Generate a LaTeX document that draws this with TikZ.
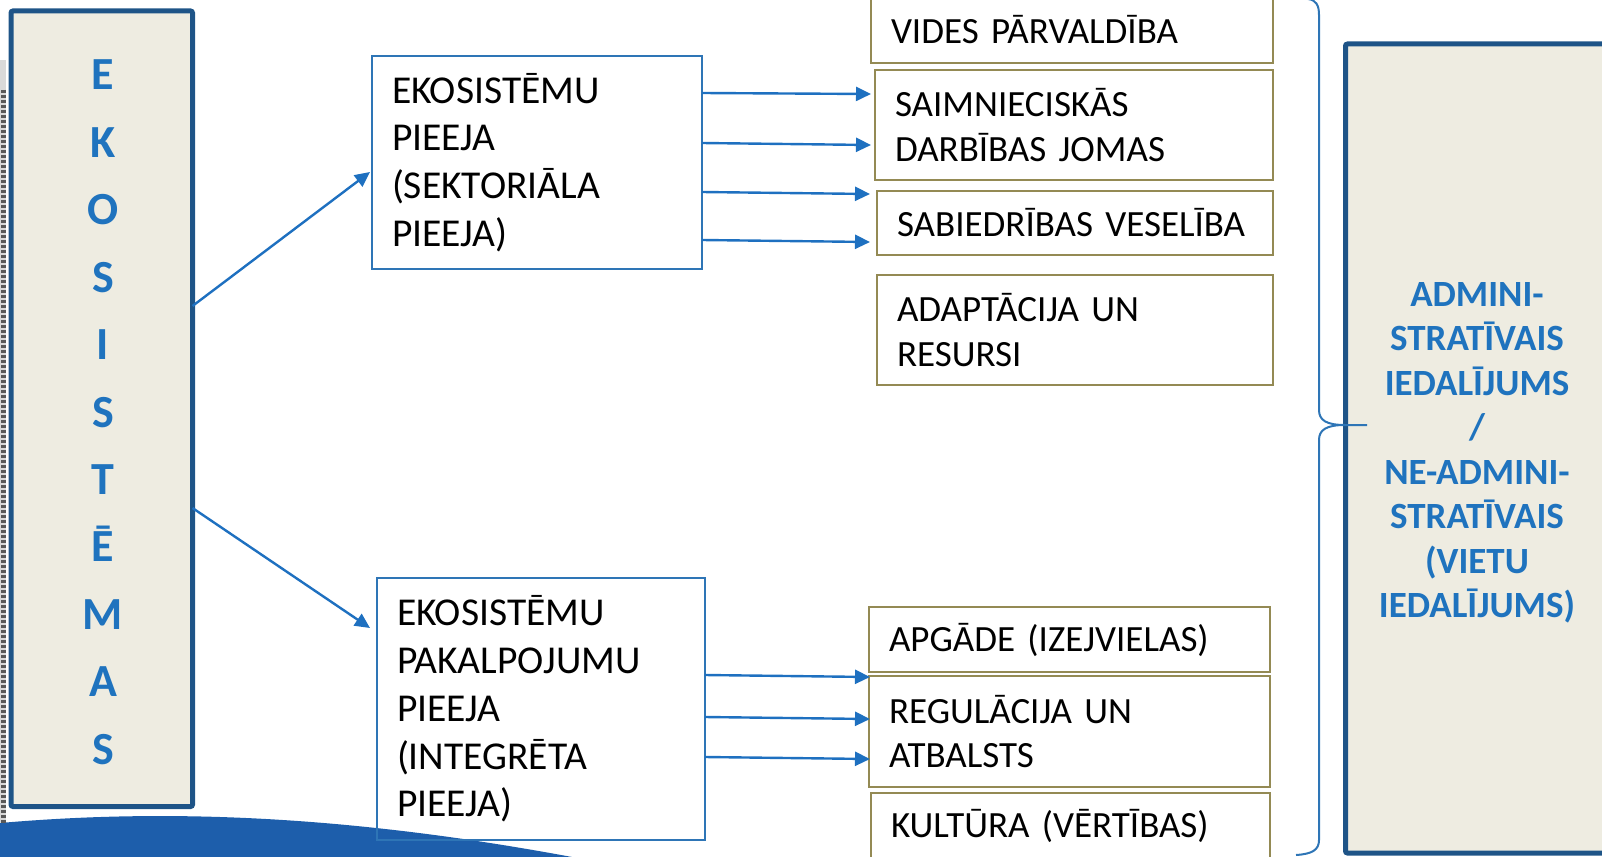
\documentclass[tikz,border=0pt]{standalone}
\usepackage{fontspec}
\setmainfont{Carlito}
\usetikzlibrary{arrows.meta,positioning}

\definecolor{ecoblue}{RGB}{30,84,135}
\definecolor{ecofill}{RGB}{238,236,225}
\definecolor{txtblue}{RGB}{31,115,190}
\definecolor{arrblue}{RGB}{30,112,192}
\definecolor{boxblue}{RGB}{46,117,182}
\definecolor{olivebox}{RGB}{148,138,84}
\definecolor{waveblue}{RGB}{29,94,171}

\begin{document}
\begin{tikzpicture}[
    x=1pt, y=-1pt,
    >=Stealth,
    sidebox/.style={draw=ecoblue, fill=ecofill, line width=5pt, rounded corners=2pt, outer sep=0pt, anchor=north west},
    letter/.style={anchor=base, text=txtblue, font=\fontsize{46}{55}\selectfont\bfseries, inner sep=0pt},
    admtext/.style={align=center, text=txtblue, font=\fontsize{37}{44.5}\selectfont\bfseries},
    appbox/.style={draw=boxblue, line width=2pt, align=left, inner xsep=20pt, outer sep=0pt, anchor=north west, font=\fontsize{39.5}{47.7}\selectfont},
    dombox/.style={draw=olivebox, line width=2pt, align=left, inner xsep=20pt, outer sep=0pt, anchor=north west, font=\fontsize{37}{44.5}\selectfont},
    arr/.style={-{Triangle[length=15pt,width=14pt]}, line width=2.4pt, draw=arrblue},
    brace/.style={draw=boxblue, line width=2pt}
  ]
  \useasboundingbox (0,0) rectangle (1602,856);

  % --- BACKGROUND ---
  \fill[waveblue] (0,823) .. controls (150,810) and (330,812) .. (572,857) -- (0,857) -- cycle;
  \fill[gray!30] (0,60) rectangle (6,823);
  \draw[line width=5pt, dash pattern=on 3pt off 2pt, black!65] (3,90) -- (3,823);

  % --- EKOSISTEMAS ---
  \node[sidebox, minimum width=181.5, minimum height=795.5] (eco) at (11,11) {};
  \foreach \ch [count=\i from 0] in {E,K,O,S,I,S,T,Ē,M,A,S}
    \node[letter] (eco-\i) at (103, 90+67.4*\i) {\ch};

  % --- APPROACHES ---
  \node[appbox, minimum width=330, minimum height=213, text width=290] (sect) at (372,56) {EKOSISTĒMU\\PIEEJA\\(SEKTORIĀLA\\PIEEJA)};
  \node[appbox, minimum width=328, minimum height=262, text width=288] (svc) at (377,578) {EKOSISTĒMU\\PAKALPOJUMU\\PIEEJA\\(INTEGRĒTA\\PIEEJA)};

  % --- SECTORS ---
  \node[dombox, minimum width=402, minimum height=66, text width=362] (vides) at (871,-3) {VIDES PĀRVALDĪBA};
  \node[dombox, minimum width=398, minimum height=110, text width=358] (saim) at (875,70) {SAIMNIECISKĀS\\DARBĪBAS JOMAS};
  \node[dombox, minimum width=396, minimum height=64, text width=356] (veselib) at (877,191) {SABIEDRĪBAS VESELĪBA};
  \node[dombox, minimum width=396, minimum height=110, text width=356] (adapt) at (877,275) {ADAPTĀCIJA UN\\RESURSI};

  % --- SERVICES ---
  \node[dombox, minimum width=401, minimum height=65, text width=361] (apgade) at (869,607) {APGĀDE (IZEJVIELAS)};
  \node[dombox, minimum width=401, minimum height=111, text width=361] (regul) at (869,676) {REGULĀCIJA UN\\ATBALSTS};
  \node[dombox, minimum width=399, minimum height=65, text width=359] (kult) at (871,793) {KULTŪRA (VĒRTĪBAS)};

  % --- ADMINISTRATIVE ---
  \node[sidebox, minimum width=280, minimum height=809] (admin) at (1345.5,44) {};
  \node[admtext] (admin-txt) at (1477,453) {ADMINI-\\STRATĪVAIS\\IEDALĪJUMS\\/\\NE-ADMINI-\\STRATĪVAIS\\(VIETU\\IEDALĪJUMS)};

  % brace
  \coordinate (brace-tip) at (1367,425);
  \draw[brace] (1308,-1) .. controls (1316,0) and (1319,5) .. (1319,15) -- (1319,410)
    .. controls (1319,420) and (1326,425) .. (1345,425) -- (brace-tip);
  \draw[brace] (1345,425) .. controls (1326,425) and (1319,430) .. (1319,440) -- (1319,840)
    .. controls (1319,850) and (1312,854) .. (1296,855);

  % --- CONNECTIONS ---
  \draw[arr] ([yshift=-295pt]eco.north east) -- ([xshift=-2pt, yshift=-116pt]sect.north west);
  \draw[arr] ([yshift=-497pt]eco.north east) -- ([xshift=-7pt, yshift=-50pt]svc.north west);

  \draw[arr] ([yshift=-37pt]sect.north east) -- ([xshift=-4pt, yshift=-24pt]saim.north west);
  \draw[arr] ([yshift=-87pt]sect.north east) -- ([xshift=-4pt, yshift=-75pt]saim.north west);
  \draw[arr] ([yshift=-136pt]sect.north east) -- ([xshift=-7pt, yshift=-3pt]veselib.north west);
  \draw[arr] ([yshift=-184pt]sect.north east) -- ([xshift=-7pt, yshift=-51pt]veselib.north west);

  \draw[arr] ([yshift=-97pt]svc.north east) -- ([xshift=1pt, yshift=-1pt]regul.north west);
  \draw[arr] ([yshift=-139pt]svc.north east) -- ([xshift=1pt, yshift=-43pt]regul.north west);
  \draw[arr] ([yshift=-179pt]svc.north east) -- ([xshift=1pt, yshift=-83pt]regul.north west);

\end{tikzpicture}
\end{document}
